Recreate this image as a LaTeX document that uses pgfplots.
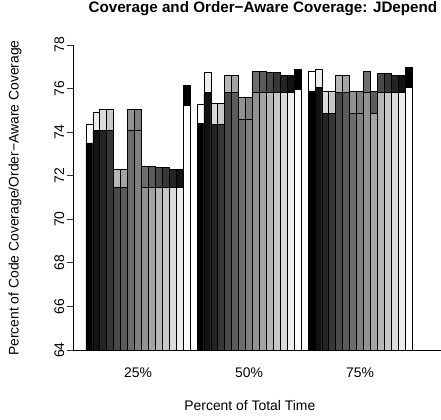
\documentclass[border=0pt]{standalone}
\usepackage{pgfplots}
\pgfplotsset{compat=1.18}
\usepackage{fontspec}
\setmainfont{Liberation Sans}
\pgfplotsset{
  cbar/.style={ybar, bar width=1, bar shift=0pt, draw=black, line width=0.8bp, fill=#1},
}
\begin{document}
\begin{tikzpicture}[x=1bp,y=1bp]
\useasboundingbox (0,0) rectangle (441,419);
\begin{axis}[
  scale only axis,
  x=6.94bp, y=21.79bp,
  at={(73bp,69bp)}, anchor=south west,
  xmin=-0.87, xmax=53, ymin=64, ymax=78,
  axis x line*=bottom, axis y line*=left,
  axis line style={-, line width=0.8bp, black},
  ytick={64,66,...,78},
  xtick={8.5,24.5,40.5}, xticklabels={25\%,50\%,75\%},
  xtick style={draw=none},
  ytick style={line width=0.8bp, black!80},
  tick align=outside, major tick length=6bp,
  /pgf/number format/assume math mode=true,
  tick label style={font=\fontsize{13.9bp}{16bp}\selectfont, inner sep=0pt},
  yticklabel style={xshift=-3bp, rotate=90, anchor=base},
  xticklabel style={anchor=base, yshift=-21.5bp},
  title={Coverage and Order−Aware Coverage: JDepend},
  title style={at={(axis description cs:0.508,1.098)}, anchor=center, inner sep=0pt,
    font=\fontsize{15.2bp}{18bp}\selectfont\bfseries},
  xlabel={Percent of Total Time},
  xlabel style={at={(axis description cs:0.473,-0.1836)}, anchor=center, inner sep=0pt,
    font=\fontsize{13.9bp}{16bp}\selectfont},
  ylabel={Percent of Code Coverage/Order−Aware Coverage},
  ylabel style={at={(axis description cs:-0.155,0.498)}, anchor=center, inner sep=0pt,
    font=\fontsize{13.9bp}{16bp}\selectfont},
]
% bar 1
\addplot[cbar=black!0]     coordinates {(1.5,74.37) (17.5,75.28) (33.5,76.80)};
\addplot[cbar=black!100]   coordinates {(1.5,73.50) (17.5,74.40) (33.5,75.89)};
% bar 2
\addplot[cbar=black!7.14]  coordinates {(2.5,74.89) (18.5,76.74) (34.5,76.90)};
\addplot[cbar=black!92.86] coordinates {(2.5,74.07) (18.5,75.81) (34.5,76.04)};
% bar 3
\addplot[cbar=black!14.29] coordinates {(3.5,75.06) (19.5,75.32) (35.5,75.85)};
\addplot[cbar=black!85.71] coordinates {(3.5,74.07) (19.5,74.36) (35.5,74.86)};
% bar 4
\addplot[cbar=black!21.43] coordinates {(4.5,75.06) (20.5,75.32) (36.5,75.85)};
\addplot[cbar=black!78.57] coordinates {(4.5,74.07) (20.5,74.36) (36.5,74.86)};
% bar 5
\addplot[cbar=black!28.57] coordinates {(5.5,72.28) (21.5,76.59) (37.5,76.62)};
\addplot[cbar=black!71.43] coordinates {(5.5,71.47) (21.5,75.81) (37.5,75.83)};
% bar 6
\addplot[cbar=black!35.71] coordinates {(6.5,72.28) (22.5,76.59) (38.5,76.62)};
\addplot[cbar=black!64.29] coordinates {(6.5,71.47) (22.5,75.81) (38.5,75.83)};
% bar 7
\addplot[cbar=black!42.86] coordinates {(7.5,75.06) (23.5,75.58) (39.5,75.85)};
\addplot[cbar=black!57.14] coordinates {(7.5,74.07) (23.5,74.58) (39.5,74.86)};
% bar 8
\addplot[cbar=black!50]    coordinates {(8.5,75.06) (24.5,75.58) (40.5,75.85)};
\addplot[cbar=black!50]    coordinates {(8.5,74.07) (24.5,74.58) (40.5,74.86)};
% bar 9
\addplot[cbar=black!57.14] coordinates {(9.5,72.42) (25.5,76.77) (41.5,76.77)};
\addplot[cbar=black!42.86] coordinates {(9.5,71.47) (25.5,75.81) (41.5,75.83)};
% bar 10
\addplot[cbar=black!64.29] coordinates {(10.5,72.42) (26.5,76.77) (42.5,75.85)};
\addplot[cbar=black!35.71] coordinates {(10.5,71.47) (26.5,75.81) (42.5,74.86)};
% bar 11
\addplot[cbar=black!71.43] coordinates {(11.5,72.38) (27.5,76.74) (43.5,76.70)};
\addplot[cbar=black!28.57] coordinates {(11.5,71.47) (27.5,75.81) (43.5,75.83)};
% bar 12
\addplot[cbar=black!78.57] coordinates {(12.5,72.38) (28.5,76.74) (44.5,76.70)};
\addplot[cbar=black!21.43] coordinates {(12.5,71.47) (28.5,75.81) (44.5,75.83)};
% bar 13
\addplot[cbar=black!85.71] coordinates {(13.5,72.30) (29.5,76.62) (45.5,76.62)};
\addplot[cbar=black!14.29] coordinates {(13.5,71.47) (29.5,75.81) (45.5,75.83)};
% bar 14
\addplot[cbar=black!92.86] coordinates {(14.5,72.30) (30.5,76.62) (46.5,76.62)};
\addplot[cbar=black!7.14]  coordinates {(14.5,71.47) (30.5,75.81) (46.5,75.83)};
% bar 15
\addplot[cbar=black!100]   coordinates {(15.5,76.13) (31.5,76.88) (47.5,76.97)};
\addplot[cbar=black!0]     coordinates {(15.5,75.24) (31.5,75.96) (47.5,76.04)};
\end{axis}
\end{tikzpicture}
\end{document}
